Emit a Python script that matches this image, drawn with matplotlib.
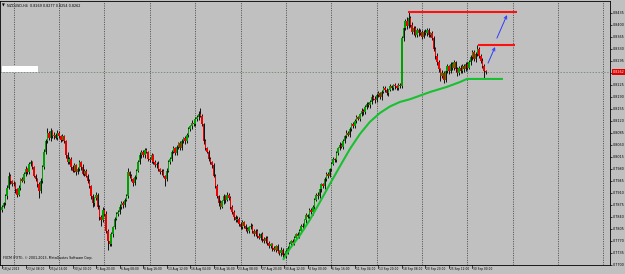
import matplotlib
matplotlib.use("Agg")
import matplotlib.pyplot as plt
import numpy as np
from matplotlib.patches import Rectangle
import matplotlib.transforms as mtransforms

# ---------------- data ----------------
symbol = "NZDUSD,H4"
header_ohlc = ["0.8269", "0.8277", "0.8254", "0.8262"]
copyright_text = "FXCM (FXTI), \u00a9 2001-2013, MetaQuotes Software Corp."

first_open = 7860  # pips (price * 10000)
closes = [
    7870, 7880, 7900, 7925, 7960, 7945, 7935, 7940, 7920, 7905, 7925, 7950, 7945, 7965, 7980, 7970, 7995, 8000, 7985, 7960,
    7950, 7935, 7915, 7945, 7985, 8030, 8060, 8085,
    8070, 8090, 8075, 8080, 8070, 8085, 8075, 8065, 8075, 8060, 8020, 8000, 8010, 7985, 7975, 7990, 7970, 7980, 8000, 7985,
    7965, 7975, 7960, 7945, 7930, 7900, 7880, 7895, 7905, 7870, 7840,
    7830, 7860, 7850, 7800, 7770, 7760, 7790, 7810, 7835, 7850, 7855, 7870, 7880, 7875, 7890, 7900, 7970,
    7960, 7950, 7940, 7955, 7975, 8000, 8020, 8030, 8020, 8035, 8030, 8010, 8005, 8020, 8000, 7990, 7995, 7980, 7970, 7975,
    7960, 7950, 7975, 8000, 8010, 8030, 8040, 8025, 8045, 8055, 8040, 8060, 8070, 8060, 8080, 8095, 8105, 8115, 8110, 8125,
    8130, 8140, 8135,
    8110, 8060, 8040, 8030, 8010, 8000, 7990, 7960, 7930, 7900,
    7880, 7870, 7885, 7900, 7890, 7905, 7895, 7870, 7855, 7840,
    7830, 7835, 7820, 7810, 7825, 7815, 7805, 7800, 7810, 7815,
    7800, 7790, 7800, 7785, 7780, 7790, 7775, 7770, 7780, 7765,
    7755, 7760, 7750, 7745, 7755, 7740, 7735, 7745, 7730, 7725, 7740,
    7750, 7760, 7770, 7765, 7780, 7790, 7785, 7800, 7815, 7810,
    7830, 7845, 7840, 7860, 7855, 7870, 7890, 7905, 7900, 7920,
    7935, 7930, 7950, 7965, 7960, 7980, 7995, 8010, 8005, 8025,
    8040, 8050, 8045, 8060, 8075, 8085, 8080, 8095, 8110, 8105,
    8120, 8130, 8125, 8140, 8150, 8145, 8160, 8170, 8165, 8175,
    8190, 8185, 8180, 8195, 8200, 8190, 8205, 8215, 8210, 8200,
    8210, 8220, 8215, 8225, 8220, 8215, 8225, 8220,
    8360, 8390, 8410, 8395, 8420, 8400, 8380, 8390, 8370, 8385,
    8375, 8380, 8365, 8380, 8375, 8385, 8370, 8375, 8360, 8330,
    8310, 8290, 8270, 8250, 8260, 8240, 8265, 8280, 8265, 8285,
    8275, 8290, 8270, 8260, 8275, 8265, 8280, 8270, 8285, 8275,
    8290, 8305, 8320, 8300, 8315, 8330, 8310, 8295, 8280, 8265,
    8262,
]
upper_wick = [
    5, 4, 6, 8, 12, 5, 4, 6, 3, 5, 7, 4, 6, 5, 8, 4, 6, 5, 3, 4,
    5, 3, 6, 7, 5, 8, 6, 15, 5, 8, 4, 6, 5, 7, 4, 5, 6, 3, 5, 8,
    4, 6, 5, 7, 3, 5, 6, 4, 8, 5, 4, 6, 5, 3, 7, 4, 9, 5, 4, 6,
    8, 5, 6, 4, 7, 5, 3, 6, 5, 4, 7, 6, 5, 4, 6, 12, 5, 6, 4, 7,
    5, 6, 8, 4, 6, 5, 7, 3, 6, 5, 4, 6, 5, 7, 4, 6, 5, 3, 8, 5,
    6, 4, 7, 5, 6, 3, 5, 7, 4, 6, 5, 8, 4, 6, 5, 7, 6, 8, 18, 6,
    5, 7, 4, 6, 5, 3, 6, 5, 7, 4, 8, 5, 6, 4, 7, 5, 6, 4, 5, 6,
    7, 4, 5, 6, 3, 5, 7, 4, 6, 5, 4, 6, 5, 7, 3, 5, 6, 4, 5, 6,
    4, 5, 6, 3, 5, 4, 6, 5, 4, 6, 5, 7, 4, 6, 5, 3, 6, 5, 4, 7,
    5, 6, 4, 7, 5, 6, 4, 5, 8, 6, 5, 4, 6, 5, 7, 4, 6, 5, 3, 6,
    5, 7, 4, 6, 5, 8, 4, 6, 5, 7, 4, 6, 5, 3, 7, 5, 6, 4, 5, 6,
    7, 4, 6, 5, 8, 5, 4, 6, 5, 7, 4, 6, 5, 3, 6, 5, 4, 6, 8, 10,
    8, 12, 18, 6, 8, 5, 7, 6, 4, 8, 6, 5, 7, 5, 6, 4, 8, 6, 5, 7,
    6, 4, 8, 5, 7, 6, 4, 6, 5, 7, 5, 6, 4, 8, 5, 6, 7, 5, 6, 8,
    6, 7, 5, 12, 6, 5, 7, 5, 4,
]
lower_wick = [
    6, 5, 4, 7, 5, 8, 6, 4, 9, 7, 5, 6, 4, 7, 5, 6, 4, 8, 6, 5,
    6, 7, 20, 5, 6, 4, 7, 5, 6, 8, 5, 7, 4, 6, 5, 8, 4, 6, 7, 5,
    6, 8, 5, 4, 7, 5, 6, 8, 4, 6, 5, 7, 6, 8, 12, 9, 6, 7, 10, 15,
    6, 8, 7, 25, 6, 5, 8, 6, 4, 7, 5, 6, 8, 5, 4, 6, 7, 5, 9, 6,
    5, 4, 6, 7, 5, 8, 4, 6, 5, 7, 6, 4, 8, 5, 6, 7, 5, 20, 6, 4,
    5, 7, 4, 6, 5, 8, 4, 6, 5, 7, 4, 6, 5, 8, 4, 6, 5, 7, 4, 6,
    8, 6, 5, 7, 6, 8, 5, 7, 6, 9, 7, 5, 6, 8, 5, 7, 6, 5, 8, 6,
    5, 7, 6, 4, 8, 5, 6, 7, 5, 8, 6, 5, 7, 4, 6, 8, 5, 6, 7, 5,
    6, 8, 5, 7, 6, 5, 8, 13, 6, 5, 7, 4, 6, 5, 8, 6, 4, 7, 5, 6,
    5, 7, 4, 6, 5, 8, 6, 5, 7, 4, 6, 5, 8, 4, 6, 5, 7, 4, 6, 5,
    4, 6, 5, 7, 4, 6, 5, 8, 4, 6, 5, 7, 4, 6, 5, 8, 4, 6, 5, 7,
    6, 5, 7, 4, 6, 5, 8, 4, 6, 5, 7, 4, 6, 5, 8, 4, 6, 5, 5, 8,
    6, 7, 5, 8, 6, 9, 7, 5, 8, 6, 7, 5, 6, 8, 5, 7, 6, 8, 9, 7,
    8, 15, 6, 10, 7, 6, 8, 5, 7, 6, 8, 10, 6, 7, 5, 8, 6, 7, 5, 6,
    7, 5, 8, 6, 7, 8, 6, 22, 6,
]

time_labels = ["18 Jul 2013", "23 Jul 08:00", "25 Jul 16:00", "30 Jul 00:00", "1 Aug 20:00",
               "6 Aug 08:00", "8 Aug 16:00", "13 Aug 12:00", "16 Aug 04:00", "20 Aug 16:00",
               "23 Aug 08:00", "27 Aug 20:00", "30 Aug 12:00", "4 Sep 00:00", "6 Sep 16:00",
               "11 Sep 04:00", "13 Sep 20:00", "18 Sep 08:00", "20 Sep 20:00", "25 Sep 12:00",
               "30 Sep 00:00"]
bars_per_label = 14
price_labels = ["0.7700", "0.7735", "0.7770", "0.7805", "0.7840", "0.7875", "0.7910", "0.7945",
                "0.7980", "0.8015", "0.8050", "0.8085", "0.8120", "0.8155", "0.8190", "0.8225",
                "0.8260", "0.8295", "0.8330", "0.8365", "0.8400", "0.8435"]

# drawn objects (bar index, price in pips)
red_level_price = [8438, 8342]
red_level_from = [241.7, 283.3]
red_level_to = [306.5, 305.4]
curve_bar = [167.3, 171.4, 177.4, 183.3, 189.3, 195.2, 201.2, 207.1, 213.1, 219.0,
             225.0, 231.0, 236.9, 242.9, 254.8, 264.9, 272.6, 276.8, 298.2]
curve_price = [7715, 7748, 7787, 7832, 7884, 7936, 7988, 8038, 8082, 8117,
               8143, 8162, 8175, 8183, 8204, 8219, 8233, 8242, 8242]
arrow_tail_bar = [289.3, 294.6]
arrow_tail_price = [8288, 8361]
arrow_head_bar = [293.5, 300.6]
arrow_head_price = [8335, 8428]

# ---------------- drawing ----------------
BG = "#c0c0c0"
W, H = 625, 274
AX_RIGHT_PX = 610
AX_TOP_PX = 1
AX_BOTTOM_PX = 265
PX_PER_BAR = 1.68
FIRST_BAR_PX = 2
ymin = 0.7700
ymax = ymin + (AX_BOTTOM_PX - AX_TOP_PX) * 2.913e-4

fig = plt.figure(figsize=(W / 100, H / 100), dpi=100, facecolor=BG)
ax = fig.add_axes([0, (H - AX_BOTTOM_PX) / H, AX_RIGHT_PX / W, (AX_BOTTOM_PX - AX_TOP_PX) / H])
ax.set_facecolor(BG)

c = np.array(closes) / 1e4
o = np.concatenate([[first_open], closes[:-1]]) / 1e4
hi = np.maximum(o, c) + np.array(upper_wick) / 1e4
lo = np.minimum(o, c) - np.array(lower_wick) / 1e4
x = np.arange(len(c))

x_left = -FIRST_BAR_PX / PX_PER_BAR
ax.set_xlim(x_left, x_left + AX_RIGHT_PX / PX_PER_BAR)
ax.set_ylim(ymin, ymax)

# vertical grid (dotted)
grid_step = 27
gx = np.arange(7, ax.get_xlim()[1], grid_step)
for g in gx:
    ax.axvline(g, color="#3a3a3a", lw=0.6, ls=(0, (1.2, 1.6)), zorder=1)

# bid line
ax.axhline(c[-1], color="#7f8f7f", lw=0.7, ls=(0, (1.5, 1.5)), zorder=1.2)

# candles
ax.vlines(x, lo, hi, color="#101010", lw=0.7, zorder=2)
bull = c >= o
body_h = np.maximum(np.abs(c - o), 0.00012)
ax.bar(x, body_h, bottom=np.minimum(o, c), width=0.85,
       color=np.where(bull, "#00a000", "#ee0000"), linewidth=0, zorder=3)

# green support curve
ax.plot(curve_bar, np.array(curve_price) / 1e4, color="#18c030", lw=1.5,
        solid_capstyle="butt", zorder=4)
# red resistance lines
for p, a, b in zip(red_level_price, red_level_from, red_level_to):
    ax.plot([a, b], [p / 1e4, p / 1e4], color="#ff1010", lw=1.5, solid_capstyle="butt", zorder=4)
# blue arrows
for tb, tp, hb, hp in zip(arrow_tail_bar, arrow_tail_price, arrow_head_bar, arrow_head_price):
    ax.annotate("", xy=(hb, hp / 1e4), xytext=(tb, tp / 1e4),
                arrowprops=dict(arrowstyle="->", color="#2f3cff", lw=0.7,
                                mutation_scale=5, shrinkA=0, shrinkB=0), zorder=5)

# white label box at top-left of bid line
ax.add_patch(Rectangle((2 / AX_RIGHT_PX, (AX_BOTTOM_PX - 72) / (AX_BOTTOM_PX - AX_TOP_PX)),
                       36 / AX_RIGHT_PX, 6 / (AX_BOTTOM_PX - AX_TOP_PX),
                       transform=ax.transAxes, facecolor="white", edgecolor="none", zorder=6))

# spines
for s in ax.spines.values():
    s.set_color("#000000")
    s.set_linewidth(0.6)

# price axis on the right
ax.yaxis.tick_right()
ax.set_yticks([float(v) for v in price_labels])
ax.set_yticklabels(price_labels)
ax.tick_params(axis="y", direction="out", length=1.5, width=0.5, pad=0.3,
               labelsize=2.4, colors="black")
ax.set_xticks([])

# time axis labels
xt = ax.get_xaxis_transform()
for k, lab in enumerate(time_labels):
    bx = k * bars_per_label
    ax.plot([bx, bx], [0, -0.012], transform=xt, color="black", lw=0.5, clip_on=False)
    ax.text(bx + 0.6, -0.006, lab, transform=xt, ha="left", va="top",
            fontsize=2.05, color="black", clip_on=False)

# current price tag
ytr = mtransforms.blended_transform_factory(ax.transAxes, ax.transData)
ax.text(1.004, c[-1], "%.4f" % c[-1], transform=ytr, ha="left", va="center",
        fontsize=2.4, color="white", clip_on=False, zorder=10,
        bbox=dict(boxstyle="square,pad=0.2", facecolor="#e00000", edgecolor="none"))

# header and copyright
ax.text(0.003, 0.99, "\u25bc", transform=ax.transAxes, fontsize=2.6, ha="left", va="top")
ax.text(0.011, 0.99, symbol + "  " + " ".join(header_ohlc), transform=ax.transAxes,
        fontsize=2.4, ha="left", va="top", color="black")
ax.text(0.005, 0.018, copyright_text, transform=ax.transAxes, fontsize=2.3,
        ha="left", va="bottom", color="black")

fig.savefig("out.png", dpi=100, facecolor=BG)
